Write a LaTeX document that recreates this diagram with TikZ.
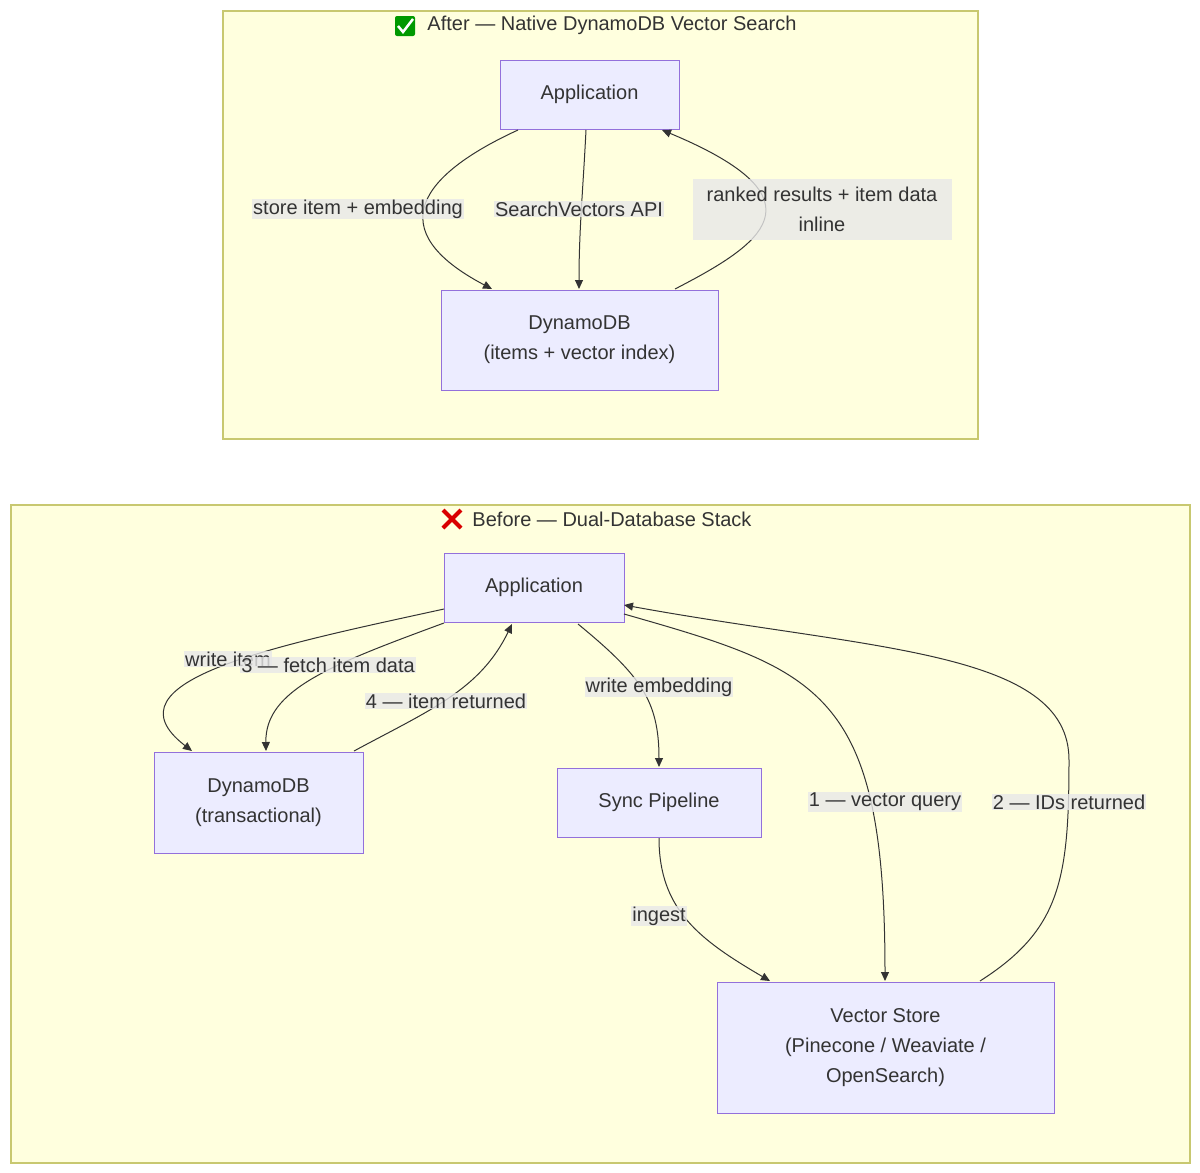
\documentclass[tikz,border=0pt]{standalone}
\usepackage{fontspec}
\setmainfont{Liberation Sans}
\usetikzlibrary{arrows.meta}
\definecolor{clfill}{HTML}{FFFFDE}
\definecolor{cldraw}{HTML}{C8C870}
\definecolor{nfill}{HTML}{ECECFF}
\definecolor{ndraw}{HTML}{9370DB}
\definecolor{edge}{HTML}{333333}
\definecolor{lbl}{HTML}{E8E8E8}
\begin{document}
\begin{tikzpicture}[x=1pt,y=-1pt,font=\fontsize{20}{30}\selectfont,
  cluster/.style={draw=cldraw,fill=clfill,line width=1.2pt},
  box/.style={draw=ndraw,fill=nfill,line width=1pt,align=center,text=edge,inner sep=0pt},
  e/.style={draw=edge,line width=1pt,-{Triangle[length=9pt,width=8pt]}},
  lab/.style={fill=lbl,fill opacity=0.8,text opacity=1,text=edge,inner sep=1pt,align=center},
  title/.style={text=edge}]
\useasboundingbox (0,0) rectangle (1200,1173);
% top cluster
\path[cluster] (223,11) rectangle (978,439);
\node[title] (t1) at (612,25) {After — Native DynamoDB Vector Search};
\node[fill=green!60!black,rounded corners=2pt,minimum size=20pt,inner sep=0pt] (ok) at (405,26) {};
\draw[white,line width=2.5pt] (398,26) -- (403,32) -- (413,19);
\node[box,minimum width=179pt,minimum height=69pt] (a1) at (589.5,94.5) {Application};
\node[box,minimum width=277pt,minimum height=100pt] (d1) at (579.5,340) {DynamoDB\\(items + vector index)};
\draw[e] (518,130) .. controls (420,175) and (380,230) .. (492,289);
\draw[e] (586,130) .. controls (583,190) and (579,230) .. (579,289);
\draw[e] (675,289) .. controls (760,245) and (830,200) .. (662,130);
\node[lab] (l1) at (358,209) {store item + embedding};
\node[lab] (l2) at (579,209) {SearchVectors API};
\node[lab,minimum width=259pt,minimum height=61pt] (l3) at (822,209.5) {ranked results + item data\\inline};
% bottom cluster
\path[cluster] (11,505) rectangle (1190,1163);
\node[title] (t2) at (612,519) {Before — Dual-Database Stack};
\node[inner sep=0pt] (x) at (452,519) {};
\draw[red!85!black,line width=4pt] (443,510) -- (461,528) (461,510) -- (443,528);
\node[box,minimum width=180pt,minimum height=69pt] (a2) at (534,587.5) {Application};
\node[box,minimum width=209pt,minimum height=101pt] (d2) at (258.5,802.5) {DynamoDB\\(transactional)};
\node[box,minimum width=204pt,minimum height=69pt] (s2) at (659,802.5) {Sync Pipeline};
\node[box,minimum width=337pt,minimum height=131pt] (v2) at (885.5,1047.5) {Vector Store\\(Pinecone / Weaviate /\\OpenSearch)};
\draw[e] (444,609) .. controls (280,645) and (100,680) .. (192,751);
\draw[e] (444,623) .. controls (330,665) and (265,690) .. (266,751);
\draw[e] (354,751) .. controls (430,710) and (480,690) .. (512,624);
\draw[e] (578,624) .. controls (640,675) and (659,700) .. (659,767);
\draw[e] (624,614) .. controls (820,670) and (885,690) .. (885,981);
\draw[e] (980,981) .. controls (1060,930) and (1069,880) .. (1069,760) .. controls (1069,650) and (870,650) .. (624,605);
\draw[e] (659,838) .. controls (659,910) and (700,940) .. (770,981);
\node[lab] (w1) at (228,659) {write item};
\node[lab] (f3) at (328,665) {3 — fetch item data};
\node[lab] (r4) at (446,701) {4 — item returned};
\node[lab] (we) at (659,687) {write embedding};
\node[lab] (q1) at (885,802) {1 — vector query};
\node[lab] (i2) at (1069,802) {2 — IDs returned};
\node[lab] (ing) at (659,916) {ingest};
\end{tikzpicture}
\end{document}
